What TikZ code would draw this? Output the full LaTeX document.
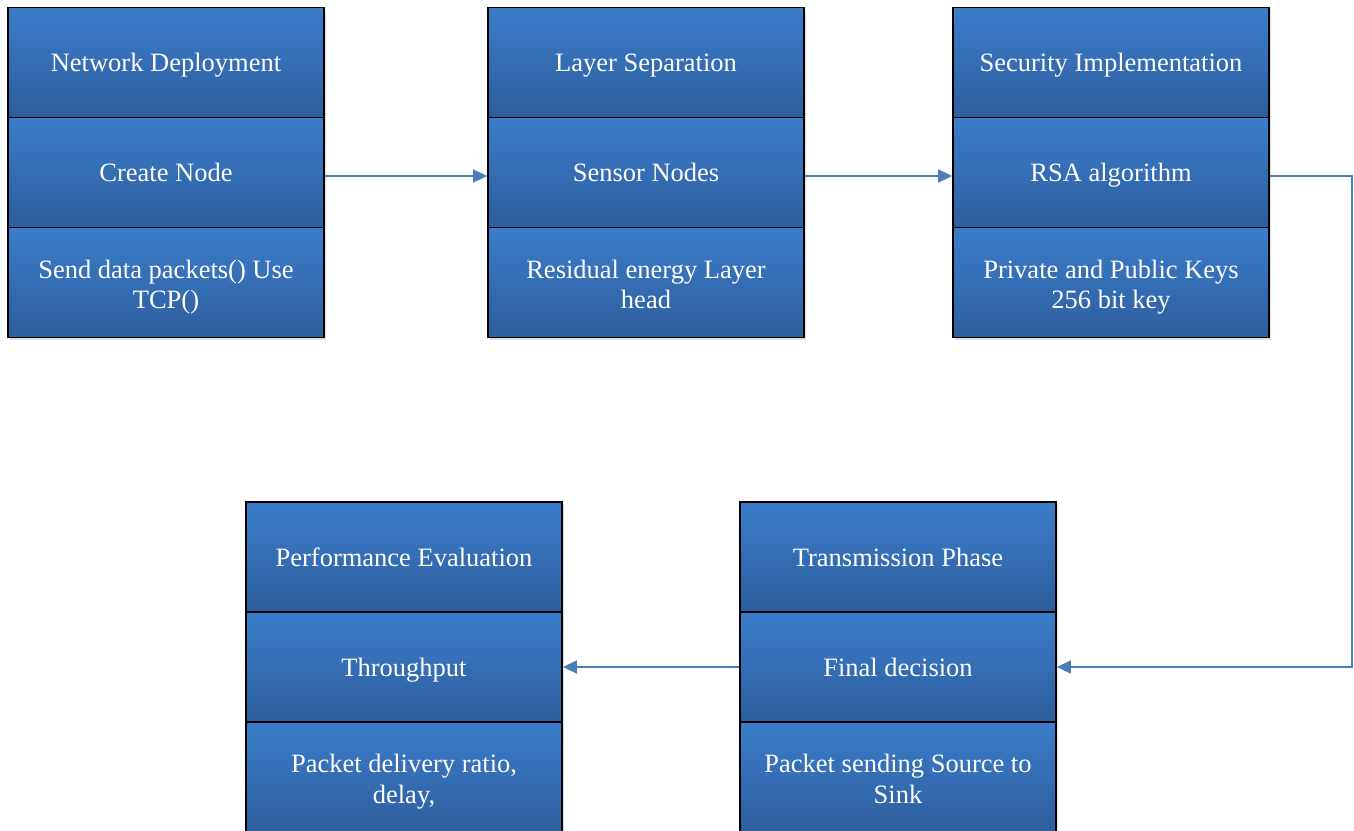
\documentclass[tikz,border=0pt]{standalone}
\usepackage{fontspec}
\setmainfont{Liberation Serif}
\usetikzlibrary{arrows.meta,shadows}
\definecolor{celltop}{HTML}{3B7DCB}
\definecolor{cellbot}{HTML}{2D5E9D}
\definecolor{linkblue}{HTML}{4A7EBB}
\tikzset{
  cell/.style={rectangle, draw=black, line width=1.8pt, top color=celltop, bottom color=cellbot,
    minimum width=316pt, minimum height=110pt, text=white, align=center, inner sep=0pt,
    text height=20pt, text depth=2pt,
    font=\fontsize{26.5}{30.5}\selectfont,
    drop shadow={opacity=0.25, shadow xshift=2pt, shadow yshift=-2pt}},
  twoline/.style={cell, text height=54pt, text depth=2pt},
  link/.style={draw=linkblue, line width=1.5pt, -{Triangle[length=14pt,width=13pt]}}
}
\begin{document}
\begin{tikzpicture}[x=1pt,y=-1pt]
\useasboundingbox (0,0) rectangle (1354,830);
% column 1
\node[cell] (a1) at (166,62.5) {Network Deployment};
\node[cell] (a2) at (166,172.5) {Create Node};
\node[twoline] (a3) at (166,282.5) {Send data packets() Use\\TCP()};
% column 2
\node[cell] (b1) at (646,62.5) {Layer Separation};
\node[cell] (b2) at (646,172.5) {Sensor Nodes};
\node[twoline] (b3) at (646,282.5) {Residual energy Layer\\head};
% column 3
\node[cell] (c1) at (1111,62.5) {Security Implementation};
\node[cell] (c2) at (1111,172.5) {RSA algorithm};
\node[twoline] (c3) at (1111,282.5) {Private and Public Keys\\256 bit key};
% bottom right
\node[cell] (t1) at (898,557) {Transmission Phase};
\node[cell] (t2) at (898,667) {Final decision};
\node[twoline] (t3) at (898,777) {Packet sending Source to\\Sink};
% bottom left
\node[cell] (p1) at (404,557) {Performance Evaluation};
\node[cell] (p2) at (404,667) {Throughput};
\node[twoline] (p3) at (404,777) {Packet delivery ratio,\\delay,};
% connectors
\draw[link] ([yshift=-3.5pt]a2.east) -- ([yshift=-3.5pt]b2.west);
\draw[link] ([yshift=-3.5pt]b2.east) -- ([yshift=-3.5pt]c2.west);
\coordinate (bend) at (1352,176);
\draw[link] ([yshift=-3.5pt]c2.east) -- (bend) |- (t2.east);
\draw[link] (t2.west) -- (p2.east);
\end{tikzpicture}
\end{document}
